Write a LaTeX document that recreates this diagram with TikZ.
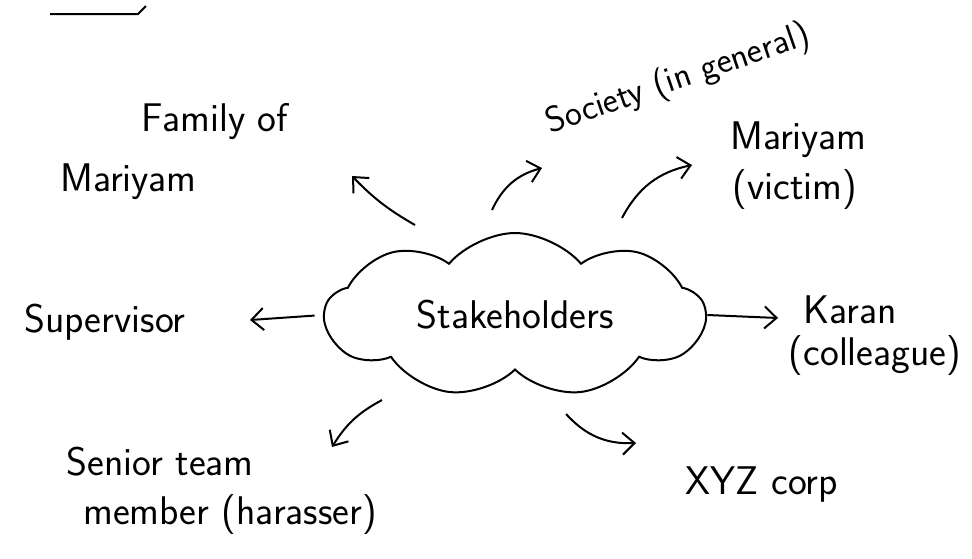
\documentclass[tikz,border=0pt]{standalone}
\usetikzlibrary{shapes.symbols,arrows.meta}
\begin{document}
\begin{tikzpicture}[x=0.5pt,y=-0.5pt]
      \tikzstyle{every node}+=[inner sep=0pt, font=\sffamily\fontsize{20}{24}\selectfont]
      \tikzstyle{arr}=[black, line width=1pt, -{Straight Barb[length=6pt,width=11pt]}]
      \useasboundingbox (0,0) rectangle (972,558);
      % left-over underline
      \draw [black, line width=1pt] (50,14) -- (138,14) -- (146,6);
      % centre cloud
      \node [draw, black, cloud, cloud puffs=9, cloud puff arc=100, aspect=2.4, minimum width=190pt, minimum height=82pt, line width=1pt] (stake) at (515,315) {Stakeholders};
      % stakeholders
      \node (fam1) at (215,122) {Family of};
      \node (fam2) at (128,182) {Mariyam};
      \node [rotate=19, font=\sffamily\fontsize{18}{20}\selectfont] (soc) at (678,80) {Society (in general)};
      \node (mar1) at (798,140) {Mariyam};
      \node (mar2) at (795,190) {(victim)};
      \node (sup) at (105,322) {Supervisor};
      \node (kar1) at (850,310) {Karan};
      \node (kar2) at (875,356) {(colleague)};
      \node (sen1) at (160,462) {Senior team};
      \node (sen2) at (230,515) {member (harasser)};
      \node (xyz) at (762,485) {XYZ corp};
      % arrow ends
      \coordinate (famst) at (415,225);
      \coordinate (famtip) at (352,176);
      \coordinate (socst) at (492,210);
      \coordinate (soctip) at (542,168);
      \coordinate (marst) at (622,218);
      \coordinate (martip) at (692,165);
      \coordinate (suptip) at (250,320);
      \coordinate (kartip) at (778,318);
      \coordinate (senst) at (382,400);
      \coordinate (sentip) at (332,447);
      \coordinate (xyzst) at (566,414);
      \coordinate (xyztip) at (636,443);
      % arrows
      \draw [arr] (famst) to [bend left=8] (famtip);
      \draw [arr] (socst) to [bend left=25] (soctip);
      \draw [arr] (marst) to [bend left=25] (martip);
      \draw [arr, shorten <=4pt] (stake.west) -- (suptip);
      \draw [arr] (stake.east) -- (kartip);
      \draw [arr] (senst) to [bend right=15] (sentip);
      \draw [arr] (xyzst) to [bend right=25] (xyztip);
\end{tikzpicture}
\end{document}
